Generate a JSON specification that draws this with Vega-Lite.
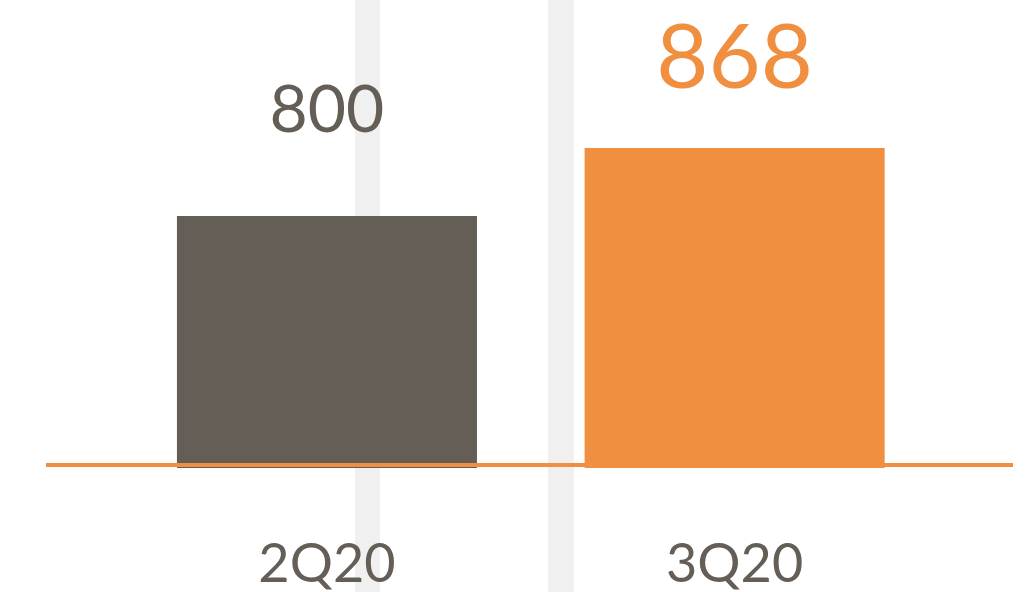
{
  "$schema": "https://vega.github.io/schema/vega-lite/v6.json",
  "autosize": "none",
  "padding": {"left": 46, "top": 0, "right": 17, "bottom": 124},
  "width": 967,
  "height": 468,
  "background": "white",
  "config": {"view": {"stroke": null}, "font": "Lato"},
  "datasets": {
    "bars": [
      {"quarter": "2Q20", "value": 800},
      {"quarter": "3Q20", "value": 868}
    ],
    "bands": [
      {"start": 309, "end": 334},
      {"start": 502, "end": 528}
    ]
  },
  "layer": [
    {
      "data": {"name": "bands"},
      "mark": {"type": "rect", "color": "#F0F0F0"},
      "encoding": {
        "x": {"field": "start", "type": "quantitative", "scale": {"domain": [0, 967], "nice": false, "zero": false}, "axis": null},
        "x2": {"field": "end"},
        "y": {"datum": 1016, "type": "quantitative", "scale": {"domain": [548, 1016], "zero": false, "nice": false}, "axis": null},
        "y2": {"datum": 424}
      }
    },
    {
      "data": {"name": "bars"},
      "encoding": {
        "x": {
          "field": "quarter",
          "type": "nominal",
          "sort": null,
          "scale": {"paddingInner": 0.264, "paddingOuter": 0.318, "align": 0.505},
          "axis": {
            "title": null,
            "ticks": false,
            "domain": false,
            "grid": false,
            "zindex": 2,
            "labelAngle": 0,
            "labelFont": "Lato",
            "labelFontSize": 54,
            "labelColor": "#655E56",
            "labelPadding": 113,
            "labelBaseline": "alphabetic"
          }
        }
      },
      "layer": [
        {
          "mark": {"type": "bar"},
          "encoding": {
            "y": {"field": "value", "type": "quantitative", "scale": {"domain": [548, 1016], "zero": false, "nice": false}, "axis": null},
            "y2": {"datum": 548},
            "color": {"field": "quarter", "type": "nominal", "scale": {"range": ["#655E56", "#F08F40"]}, "legend": null}
          }
        },
        {
          "mark": {"type": "rule", "color": "#F08F40", "strokeWidth": 4},
          "encoding": {
            "x": {"value": 0},
            "x2": {"value": 967},
            "y": {"datum": 551, "type": "quantitative", "axis": null}
          }
        },
        {
          "transform": [{"filter": "datum.quarter === '2Q20'"}],
          "mark": {"type": "text", "dy": -84, "fontSize": 66, "color": "#655E56", "baseline": "alphabetic", "align": "center", "font": "Lato"},
          "encoding": {
            "y": {"field": "value", "type": "quantitative", "axis": null},
            "text": {"field": "value", "type": "quantitative"}
          }
        },
        {
          "transform": [{"filter": "datum.quarter === '3Q20'"}],
          "mark": {"type": "text", "dy": -60, "fontSize": 90, "color": "#F08F40", "baseline": "alphabetic", "align": "center", "font": "Lato"},
          "encoding": {
            "y": {"field": "value", "type": "quantitative", "axis": null},
            "text": {"field": "value", "type": "quantitative"}
          }
        }
      ]
    }
  ],
  "resolve": {"scale": {"x": "independent"}}
}
